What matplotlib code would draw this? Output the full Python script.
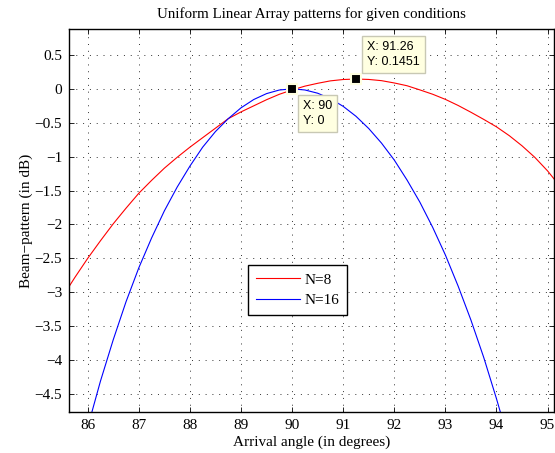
import matplotlib
matplotlib.use('Agg')
import matplotlib.pyplot as plt

# Beam-pattern samples (degrees, dB)
angle_n8 = [85.64, 85.75, 86.0, 86.25, 86.5, 86.75, 87.0, 87.25, 87.5, 87.75,
            88.0, 88.25, 88.5, 88.75, 89.0, 89.25, 89.5, 89.75, 90.0, 90.25,
            90.5, 90.75, 91.0, 91.26, 91.5, 91.75, 92.0, 92.25, 92.5, 92.75,
            93.0, 93.25, 93.5, 93.75, 94.0, 94.25, 94.5, 94.75, 95.0, 95.15]
bp_n8 = [-2.91, -2.78, -2.50, -2.24, -1.99, -1.76, -1.54, -1.35, -1.17, -1.01,
         -0.86, -0.72, -0.58, -0.44, -0.34, -0.25, -0.16, -0.08, -0.016, 0.04,
         0.082, 0.118, 0.138, 0.1451, 0.139, 0.121, 0.087, 0.046, -0.015, -0.079,
         -0.155, -0.245, -0.345, -0.45, -0.56, -0.69, -0.84, -1.01, -1.21, -1.35]

angle_n16 = [86.0, 86.25, 86.5, 86.75, 87.0, 87.25, 87.5, 87.75, 88.0, 88.25,
             88.5, 88.75, 89.0, 89.25, 89.5, 89.75, 90.0, 90.25, 90.5, 90.75,
             91.0, 91.25, 91.5, 91.75, 92.0, 92.25, 92.5, 92.75, 93.0, 93.25,
             93.5, 93.75, 94.0, 94.25]
bp_n16 = [-4.99, -4.31, -3.70, -3.14, -2.64, -2.20, -1.80, -1.45, -1.14, -0.86,
          -0.63, -0.44, -0.28, -0.157, -0.07, -0.017, 0.0, -0.016, -0.064, -0.145,
          -0.258, -0.404, -0.585, -0.80, -1.05, -1.345, -1.67, -2.04, -2.45, -2.91,
          -3.41, -3.96, -4.57, -5.22]

tip_n16 = (90, 0)
tip_n8 = (91.26, 0.1451)

x_ticks = list(range(86, 96))
y_ticks = [0.5, 0, -0.5, -1, -1.5, -2, -2.5, -3, -3.5, -4, -4.5]

plt.rcParams['font.family'] = ['Liberation Serif', 'DejaVu Serif']
plt.rcParams['axes.unicode_minus'] = True

fig = plt.figure(figsize=(5.55, 4.53), dpi=100)
ax = fig.add_axes([0.1243, 0.0912, 0.8744, 0.8442])

ax.plot(angle_n8, bp_n8, color='red', lw=0.8, label='N=8')
ax.plot(angle_n16, bp_n16, color='blue', lw=0.8, label='N=16')

ax.set_xlim(85.634, 95.131)
ax.set_ylim(-4.761, 0.879)
ax.set_xticks(x_ticks)
ax.set_yticks(y_ticks)
ax.set_yticklabels(['0.5', '0', '\u22120.5', '\u22121', '\u22121.5', '\u22122',
                    '\u22122.5', '\u22123', '\u22123.5', '\u22124', '\u22124.5'])
ax.tick_params(direction='in', top=True, right=True, length=3.5, width=0.6,
               labelsize=11, pad=5)
ax.grid(True, color='#333333', linestyle=(0, (1, 6)), linewidth=0.7)
for s in ax.spines.values():
    s.set_linewidth(1.0)

ax.set_title('Uniform Linear Array patterns for given conditions', fontsize=10.8, pad=8)
ax.set_xlabel('Arrival angle (in degrees)', fontsize=11, labelpad=3)
ax.set_ylabel('Beam\u2212pattern (in dB)', fontsize=11, labelpad=1)

leg = ax.legend(loc='lower left', bbox_to_anchor=(0.3695, 0.2529), fontsize=11,
                fancybox=False, framealpha=1, edgecolor='black', handlelength=2.9,
                borderpad=0.5, labelspacing=0.45, handletextpad=0.3,
                borderaxespad=0)
leg.get_frame().set_linewidth(1.0)

# data tips
tip_face = '#ffffe1'
tip_edge = '#c8c8b4'
for (tx, ty), off, va in [(tip_n16, (11, -11), 'top'), (tip_n8, (11, 11), 'bottom')]:
    ax.plot(tx, ty, marker='s', ms=7.5, color='black', mec=tip_face, mew=1.5,
            zorder=6)
    ax.annotate('X: %g\nY: %g' % (tx, ty), xy=(tx, ty), xytext=off,
                textcoords='offset pixels', ha='left', va=va, fontsize=9,
                family=['Liberation Sans', 'DejaVu Sans'], linespacing=1.3,
                bbox=dict(boxstyle='square,pad=0.4', fc=tip_face, ec=tip_edge, lw=1.0),
                zorder=7)

fig.savefig('out.png', dpi=100)
